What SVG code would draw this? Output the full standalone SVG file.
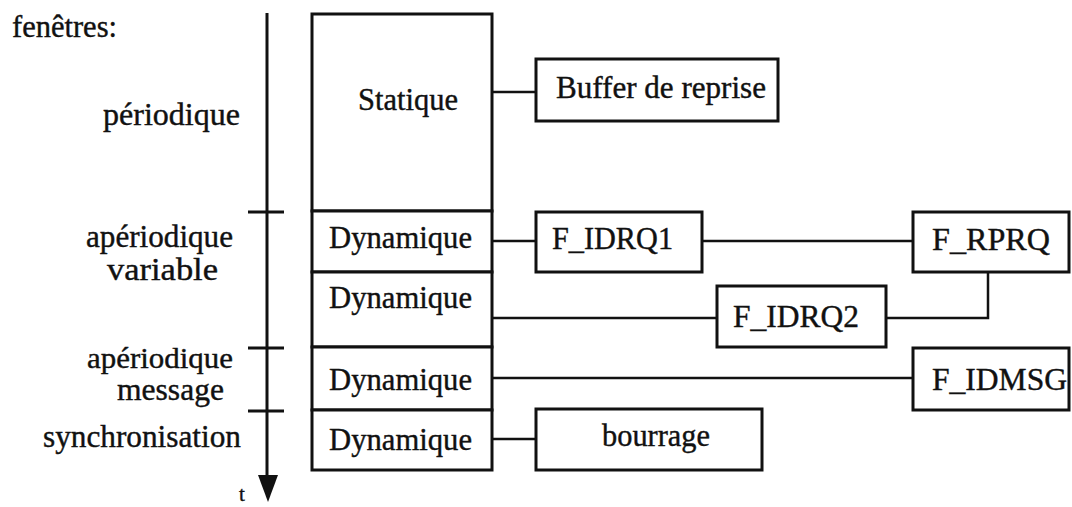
<svg xmlns="http://www.w3.org/2000/svg" width="1072" height="507" viewBox="0 0 1072 507">
<style>
text{font-family:"Liberation Serif","Times New Roman",serif;font-size:31px;fill:#111;stroke:#111;stroke-width:0.4}
.box{fill:#fff;stroke:#111;stroke-width:3}
.con{fill:none;stroke:#111;stroke-width:2.5}
.axis{stroke:#111;stroke-width:3;fill:none}
</style>
<rect width="1072" height="507" fill="#fff"/>
<g id="labels">
<text x="12" y="37" textLength="105" lengthAdjust="spacingAndGlyphs">fenêtres:</text>
<text x="103" y="125" textLength="137" lengthAdjust="spacingAndGlyphs">périodique</text>
<text x="86" y="247" textLength="147" lengthAdjust="spacingAndGlyphs">apériodique</text>
<text x="107" y="280" textLength="111" lengthAdjust="spacingAndGlyphs">variable</text>
<text x="87" y="368" textLength="146" lengthAdjust="spacingAndGlyphs" style="font-size:29px">apériodique</text>
<text x="117" y="400" textLength="107" lengthAdjust="spacingAndGlyphs">message</text>
<text x="43" y="447" textLength="198" lengthAdjust="spacingAndGlyphs">synchronisation</text>
<text x="239" y="501" style="font-size:21px">t</text>
</g>
<g id="axis">
<line class="axis" x1="267" y1="13" x2="267" y2="480"/>
<polygon points="258,475 278,475 268,502" fill="#111"/>
<line class="axis" x1="248" y1="212" x2="284" y2="212"/>
<line class="axis" x1="248" y1="348" x2="284" y2="348"/>
<line class="axis" x1="248" y1="411" x2="284" y2="411"/>
</g>
<g id="connectors">
<polyline class="con" points="492,92 536,92"/>
<polyline class="con" points="492,241 536,241"/>
<polyline class="con" points="702,241 913,241"/>
<polyline class="con" points="492,318 717,318"/>
<polyline class="con" points="886,318 988,318 988,272"/>
<polyline class="con" points="492,378 913,378"/>
<polyline class="con" points="492,439 536,439"/>
</g>
<g id="statique">
<rect class="box" x="312" y="14" width="180" height="197"/>
<text x="358" y="110" textLength="100" lengthAdjust="spacingAndGlyphs">Statique</text>
</g>
<g id="dyn1">
<rect class="box" x="312" y="211" width="180" height="61"/>
<text x="329" y="248" textLength="143" lengthAdjust="spacingAndGlyphs">Dynamique</text>
</g>
<g id="dyn2">
<rect class="box" x="312" y="272" width="180" height="75"/>
<text x="329" y="308" textLength="143" lengthAdjust="spacingAndGlyphs">Dynamique</text>
</g>
<g id="dyn3">
<rect class="box" x="312" y="347" width="180" height="63"/>
<text x="329" y="390" textLength="143" lengthAdjust="spacingAndGlyphs">Dynamique</text>
</g>
<g id="dyn4">
<rect class="box" x="312" y="410" width="180" height="60"/>
<text x="329" y="450" textLength="143" lengthAdjust="spacingAndGlyphs">Dynamique</text>
</g>
<g id="buffer">
<rect class="box" x="536" y="59" width="242" height="62"/>
<text x="556" y="98" textLength="210" lengthAdjust="spacingAndGlyphs">Buffer de reprise</text>
</g>
<g id="f_idrq1">
<rect class="box" x="536" y="212" width="166" height="60"/>
<text x="552" y="249" textLength="121" lengthAdjust="spacingAndGlyphs">F_IDRQ1</text>
</g>
<g id="f_rprq">
<rect class="box" x="913" y="212" width="156" height="60"/>
<text x="932" y="250" textLength="118" lengthAdjust="spacingAndGlyphs">F_RPRQ</text>
</g>
<g id="f_idrq2">
<rect class="box" x="717" y="286" width="169" height="61"/>
<text x="733" y="327" textLength="126" lengthAdjust="spacingAndGlyphs">F_IDRQ2</text>
</g>
<g id="f_idmsg">
<rect class="box" x="913" y="348" width="156" height="62"/>
<text x="932" y="390" textLength="135" lengthAdjust="spacingAndGlyphs">F_IDMSG</text>
</g>
<g id="bourrage">
<rect class="box" x="536" y="409" width="226" height="61"/>
<text x="602" y="446" textLength="108" lengthAdjust="spacingAndGlyphs">bourrage</text>
</g>
</svg>
